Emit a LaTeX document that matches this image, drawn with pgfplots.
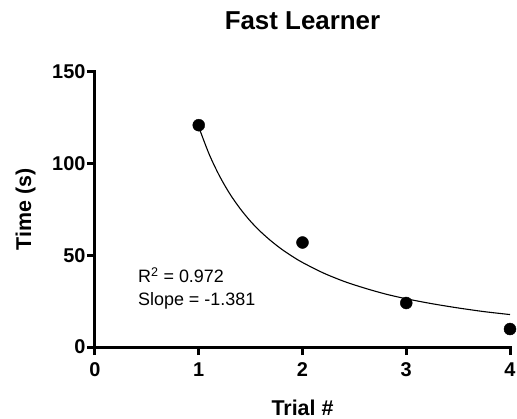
\documentclass[border=0pt]{standalone}
\usepackage{pgfplots}
\pgfplotsset{compat=1.18}
\usepackage{fontspec}
\setmainfont{Liberation Sans}

\begin{document}
\begin{tikzpicture}
\begin{axis}[
    scale only axis,
    width=415bp, height=275bp,
    xmin=0, xmax=4, ymin=0, ymax=150,
    axis x line*=bottom, axis y line*=left,
    axis line style={line width=3bp, line cap=rect},
    xtick={0,1,2,3,4}, ytick={0,50,100,150},
    tick align=outside, major tick length=8bp,
    tick style={line width=3bp, black},
    x tick label style={font=\fontsize{20}{21}\selectfont\bfseries, yshift=-4bp},
    y tick label style={font=\fontsize{20}{21}\selectfont\bfseries, xshift=2bp},
    /pgf/number format/assume math mode=true,
    title={Fast Learner},
    title style={font=\fontsize{26}{28}\selectfont\bfseries, at={(axis description cs:0.5,1.165)}, anchor=center},
    xlabel={Trial \#},
    ylabel={Time (s)},
    label style={font=\fontsize{21.5}{24}\selectfont\bfseries},
    xlabel style={at={(axis description cs:0.5,-0.22)}, anchor=center},
    ylabel style={at={(axis description cs:-0.167,0.5)}, anchor=center, rotate=0},
    clip=false,
]
% power-law fit, sampled
\addplot[black, line width=1.1bp, smooth] coordinates {
    (1.0,120.0) (1.1,105.2) (1.2,93.3) (1.3,83.5) (1.4,75.4) (1.5,68.5)
    (1.6,62.7) (1.7,57.7) (1.8,53.3) (1.9,49.5) (2.0,46.1) (2.2,40.4)
    (2.4,35.8) (2.6,32.1) (2.8,28.9) (3.0,26.3) (3.25,23.6) (3.5,21.3)
    (3.75,19.3) (4.0,17.7)
};
\addplot[only marks, mark=*, mark size=6bp, black] coordinates {
    (1,121) (2,57) (3,24) (4,9.8)
};
\node[anchor=base west, font=\fontsize{18}{20}\selectfont, inner sep=0pt] at (axis cs:0.414,35) {R$^{\mathrm{2}}$ = 0.972};
\node[anchor=base west, font=\fontsize{18}{20}\selectfont, inner sep=0pt] at (axis cs:0.414,22.4) {Slope = -1.381};
\end{axis}
\pgfresetboundingbox
\path[use as bounding box] (-95bp,-72bp) rectangle (422bp,347bp);
\end{tikzpicture}
\end{document}
